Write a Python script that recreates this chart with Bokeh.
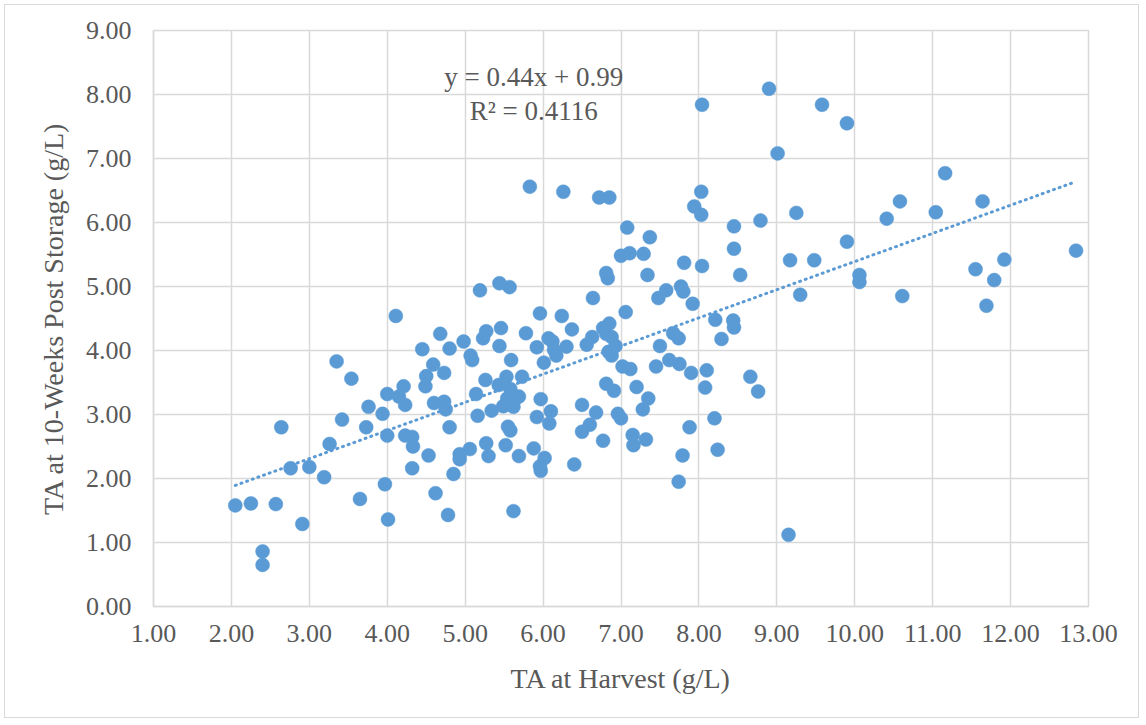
from bokeh.plotting import figure
from bokeh.models import Range1d, FixedTicker, NumeralTickFormatter, Label, ColumnDataSource
from bokeh.embed import file_html
from bokeh.resources import INLINE

# TA at harvest (g/L)
ta_harvest = [
    4.11, 4.45, 3.35, 3.54, 4.59, 4.50, 4.49, 4.00, 4.21, 4.15, 4.23, 3.76, 3.94, 3.42, 3.73, 2.64, 4.00, 4.23,
    4.32, 4.33, 3.26, 4.53, 4.32, 2.76, 3.00, 3.19, 2.05, 2.25, 2.57, 3.65, 3.97, 4.62, 2.91, 4.01, 2.40, 2.40,
    5.19, 5.44, 5.57, 7.00, 7.11, 7.29, 6.81, 6.83, 7.34, 6.64, 7.48, 7.58, 5.96, 6.24, 7.06, 4.68, 4.98, 4.80,
    5.27, 5.23, 5.46, 5.44, 5.78, 5.07, 5.09, 5.59, 5.92, 6.07, 6.12, 6.14, 6.17, 6.37, 6.30, 6.01, 6.56, 6.63,
    6.77, 6.85, 6.81, 6.88, 6.93, 6.84, 6.88, 7.50, 7.67, 7.02, 7.12, 7.45, 7.62,
    4.73, 5.26, 5.53, 5.73, 5.43, 5.14, 5.58, 5.69, 5.54, 4.60, 4.73, 4.75, 5.34, 5.16, 5.49, 5.62, 5.64, 5.97,
    6.10, 5.92, 6.08, 6.50, 6.68, 6.81, 6.91, 6.96, 7.00, 7.20, 7.35, 7.28,
    4.80, 5.55, 5.58, 5.27, 5.52, 5.06, 4.93, 4.93, 5.30, 5.69, 5.88, 6.02, 5.96, 5.97, 6.50, 6.60, 6.77, 7.15,
    7.16, 7.32, 6.40, 4.85, 4.78, 5.62,
    9.01, 8.03, 7.94, 8.03, 8.45, 8.79, 9.25, 10.41, 10.58, 8.45, 7.81, 8.04, 8.53, 9.17, 9.48, 9.90, 10.06,
    10.06, 10.61, 9.30, 7.77, 7.80, 7.92, 8.21, 8.44, 8.45, 8.29, 7.74, 7.75, 7.90, 8.10, 8.08, 8.66, 8.76,
    8.20, 7.88, 7.79, 8.24, 7.74,
    11.16, 11.04, 11.64, 12.84, 11.92, 11.55, 11.79, 11.69,
    8.04, 5.83, 6.26, 6.72, 6.85, 7.08, 7.37, 8.90, 9.58, 9.90, 9.15,
]

# TA at 10 weeks post storage (g/L)
ta_storage = [
    4.54, 4.02, 3.83, 3.56, 3.78, 3.60, 3.44, 3.32, 3.44, 3.28, 3.15, 3.12, 3.01, 2.92, 2.80, 2.80, 2.67, 2.67,
    2.65, 2.50, 2.54, 2.36, 2.16, 2.16, 2.18, 2.02, 1.58, 1.61, 1.60, 1.68, 1.91, 1.77, 1.29, 1.36, 0.86, 0.65,
    4.94, 5.05, 4.99, 5.48, 5.52, 5.51, 5.21, 5.13, 5.18, 4.82, 4.82, 4.94, 4.58, 4.54, 4.60, 4.26, 4.14, 4.03,
    4.30, 4.19, 4.35, 4.07, 4.27, 3.92, 3.85, 3.85, 4.05, 4.19, 4.14, 4.01, 3.92, 4.33, 4.06, 3.81, 4.09, 4.21,
    4.35, 4.42, 4.26, 4.21, 4.07, 3.98, 3.92, 4.07, 4.27, 3.75, 3.71, 3.75, 3.85,
    3.65, 3.54, 3.59, 3.59, 3.46, 3.32, 3.40, 3.28, 3.25, 3.18, 3.20, 3.08, 3.06, 2.98, 3.13, 3.12, 3.24, 3.24,
    3.05, 2.96, 2.86, 3.15, 3.03, 3.48, 3.37, 3.01, 2.94, 3.43, 3.25, 3.08,
    2.80, 2.81, 2.75, 2.55, 2.52, 2.46, 2.38, 2.30, 2.35, 2.35, 2.47, 2.32, 2.19, 2.12, 2.73, 2.84, 2.59, 2.68,
    2.52, 2.61, 2.22, 2.07, 1.43, 1.49,
    7.08, 6.48, 6.25, 6.12, 5.94, 6.03, 6.15, 6.06, 6.33, 5.59, 5.37, 5.32, 5.18, 5.41, 5.41, 5.70, 5.18,
    5.07, 4.85, 4.87, 5.00, 4.92, 4.73, 4.48, 4.47, 4.36, 4.18, 4.19, 3.79, 3.65, 3.69, 3.42, 3.59, 3.36,
    2.94, 2.80, 2.36, 2.45, 1.95,
    6.77, 6.16, 6.33, 5.56, 5.42, 5.27, 5.10, 4.70,
    7.84, 6.56, 6.48, 6.39, 6.39, 5.92, 5.77, 8.09, 7.84, 7.55, 1.12,
]

# Linear trend line, as stated on the chart
TREND_SLOPE = 0.44
TREND_INTERCEPT = 0.99
R_SQUARED = "0.4116"

x_ticks = list(range(1, 14))
y_ticks = list(range(0, 10))

X_TITLE = "TA at Harvest (g/L)"
Y_TITLE = "TA at 10-Weeks Post Storage (g/L)"

BLUE = "#5B9BD5"
GRID = "#D9D9D9"
TEXT = "#595959"
FONT = "Liberation Serif"

p = figure(width=1135, height=714, output_backend="svg", toolbar_location=None,
           x_range=Range1d(1, 13), y_range=Range1d(0, 9),
           min_border_left=148, min_border_right=52, min_border_top=25, min_border_bottom=113,
           background_fill_color="white", border_fill_color="white")
p.styles = {"border": "1.5px solid #D9D9D9", "margin": "4px"}
p.outline_line_color = GRID
p.outline_line_width = 1.5

for ax in (p.xaxis[0], p.yaxis[0]):
    ax.axis_line_color = GRID
    ax.axis_line_width = 1.5
    ax.major_tick_line_color = None
    ax.minor_tick_line_color = None
    ax.major_tick_out = 0
    ax.major_tick_in = 0
    ax.major_label_text_font = FONT
    ax.major_label_text_font_size = "26px"
    ax.major_label_text_color = TEXT
    ax.axis_label_text_font = FONT
    ax.axis_label_text_font_size = "28px"
    ax.axis_label_text_color = TEXT
    ax.axis_label_text_font_style = "normal"
    ax.formatter = NumeralTickFormatter(format="0.00")

p.xaxis[0].ticker = FixedTicker(ticks=x_ticks)
p.yaxis[0].ticker = FixedTicker(ticks=y_ticks)
p.xaxis[0].axis_label = X_TITLE
p.yaxis[0].axis_label = Y_TITLE
p.xaxis[0].major_label_standoff = 18
p.yaxis[0].major_label_standoff = 22
p.xaxis[0].axis_label_standoff = 18
p.yaxis[0].axis_label_standoff = 14

p.xgrid.ticker = FixedTicker(ticks=x_ticks)
p.ygrid.ticker = FixedTicker(ticks=y_ticks)
p.xgrid.grid_line_color = GRID
p.ygrid.grid_line_color = GRID
p.xgrid.grid_line_width = 1.5
p.ygrid.grid_line_width = 1.5

src = ColumnDataSource(data=dict(x=ta_harvest, y=ta_storage))

x0, x1 = min(ta_harvest), max(ta_harvest)
p.line([x0, x1], [TREND_SLOPE * x0 + TREND_INTERCEPT, TREND_SLOPE * x1 + TREND_INTERCEPT],
       line_color=BLUE, line_width=3, line_dash="1 5", line_cap="round")

p.scatter("x", "y", source=src, size=14, fill_color=BLUE, line_color=BLUE, line_width=0.5)

eq = Label(x=5.88, y=8.27, text=f"y = {TREND_SLOPE:.2f}x + {TREND_INTERCEPT:.2f}",
           text_align="center", text_baseline="middle", text_font=FONT,
           text_font_size="27px", text_color=TEXT)
r2 = Label(x=5.88, y=7.75, text=f"R² = {R_SQUARED}",
           text_align="center", text_baseline="middle", text_font=FONT,
           text_font_size="27px", text_color=TEXT)
p.add_layout(eq)
p.add_layout(r2)

open("out.html", "w").write(file_html(p, INLINE))
